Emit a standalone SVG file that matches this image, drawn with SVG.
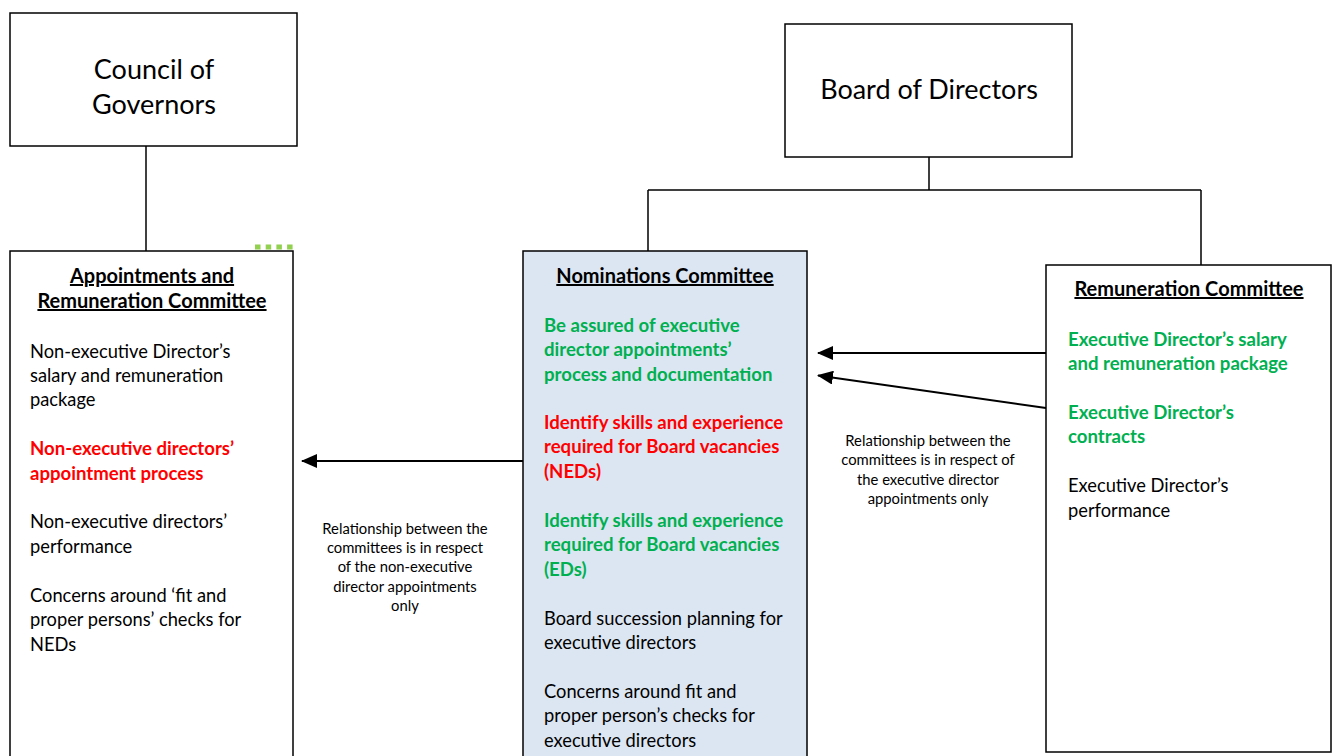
<svg xmlns="http://www.w3.org/2000/svg" width="1335" height="756" viewBox="0 0 1335 756">
<defs>
<style>
text{font-family:Lato,"Liberation Sans",sans-serif;fill:#000}
.box{fill:#fff;stroke:#000;stroke-width:1.5}
.nom{fill:#dce6f2;stroke:#000;stroke-width:1.5}
.big{font-size:27px;text-anchor:middle}
.hd{font-size:20px;font-weight:bold;text-decoration:underline;text-anchor:middle}
.b{font-size:18.3px}
.g{fill:#00b050;font-weight:bold;font-size:18.6px}
.r{fill:#ff0000;font-weight:bold;font-size:18.6px}
.sm{font-size:14.8px;text-anchor:middle}
.ln{fill:none;stroke:#000;stroke-width:1.5}
.ar{fill:none;stroke:#000;stroke-width:2}
</style>
<marker id="arr" markerWidth="16" markerHeight="14" refX="15" refY="7" orient="auto" markerUnits="userSpaceOnUse">
<path d="M0,0 L16,7 L0,14 z" fill="#000"/>
</marker>
</defs>
<rect width="1335" height="756" fill="#fff"/>

<g id="connectors">
<path class="ln" d="M146,146 V251"/>
<path class="ln" d="M929,157 V190 M648,190 H1201 M648,190 V251 M1201,190 V265"/>
<line class="ar" x1="523" y1="461" x2="302" y2="461" marker-end="url(#arr)"/>
<line class="ar" x1="1046" y1="353" x2="818" y2="353" marker-end="url(#arr)"/>
<line class="ar" x1="1046" y1="408" x2="818" y2="375.5" marker-end="url(#arr)"/>
<path d="M255,247 H293" stroke="#92d050" stroke-width="5" stroke-dasharray="5.5 5.2" fill="none"/>
</g>

<g id="council">
<rect class="box" x="10" y="13" width="287" height="133"/>
<text class="big" x="154" y="79">Council of</text>
<text class="big" x="154" y="114">Governors</text>
</g>

<g id="board">
<rect class="box" x="785" y="24" width="287" height="133"/>
<text class="big" x="929" y="99">Board of Directors</text>
</g>

<g id="arc">
<rect class="box" x="10" y="251" width="283" height="520"/>
<text class="hd" x="152" y="283">Appointments and</text>
<text class="hd" x="152" y="308">Remuneration Committee</text>
<text class="b" x="30" y="358">Non-executive Director’s</text>
<text class="b" x="30" y="382">salary and remuneration</text>
<text class="b" x="30" y="406">package</text>
<text class="b r" x="30" y="455">Non-executive directors’</text>
<text class="b r" x="30" y="480">appointment process</text>
<text class="b" x="30" y="528">Non-executive directors’</text>
<text class="b" x="30" y="553">performance</text>
<text class="b" x="30" y="602">Concerns around ‘fit and</text>
<text class="b" x="30" y="626">proper persons’ checks for</text>
<text class="b" x="30" y="651">NEDs</text>
</g>

<g id="nominations">
<rect class="nom" x="523" y="251" width="284" height="520"/>
<text class="hd" x="665" y="283">Nominations Committee</text>
<text class="b g" x="544" y="332">Be assured of executive</text>
<text class="b g" x="544" y="356">director appointments’</text>
<text class="b g" x="544" y="381">process and documentation</text>
<text class="b r" x="544" y="429">Identify skills and experience</text>
<text class="b r" x="544" y="453">required for Board vacancies</text>
<text class="b r" x="544" y="478">(NEDs)</text>
<text class="b g" x="544" y="527">Identify skills and experience</text>
<text class="b g" x="544" y="551">required for Board vacancies</text>
<text class="b g" x="544" y="576">(EDs)</text>
<text class="b" x="544" y="625">Board succession planning for</text>
<text class="b" x="544" y="649">executive directors</text>
<text class="b" x="544" y="698">Concerns around fit and</text>
<text class="b" x="544" y="722">proper person’s checks for</text>
<text class="b" x="544" y="747">executive directors</text>
</g>

<g id="remuneration">
<rect class="box" x="1046" y="265" width="285" height="487"/>
<text class="hd" x="1189" y="296">Remuneration Committee</text>
<text class="b g" x="1068" y="346">Executive Director’s salary</text>
<text class="b g" x="1068" y="370">and remuneration package</text>
<text class="b g" x="1068" y="419">Executive Director’s</text>
<text class="b g" x="1068" y="443">contracts</text>
<text class="b" x="1068" y="492">Executive Director’s</text>
<text class="b" x="1068" y="517">performance</text>
</g>

<g id="note-left">
<text class="sm" x="405" y="534">Relationship between the</text>
<text class="sm" x="405" y="553">committees is in respect</text>
<text class="sm" x="405" y="572">of the non-executive</text>
<text class="sm" x="405" y="592">director appointments</text>
<text class="sm" x="405" y="611">only</text>
</g>

<g id="note-right">
<text class="sm" x="928" y="446">Relationship between the</text>
<text class="sm" x="928" y="465">committees is in respect of</text>
<text class="sm" x="928" y="485">the executive director</text>
<text class="sm" x="928" y="504">appointments only</text>
</g>
</svg>
